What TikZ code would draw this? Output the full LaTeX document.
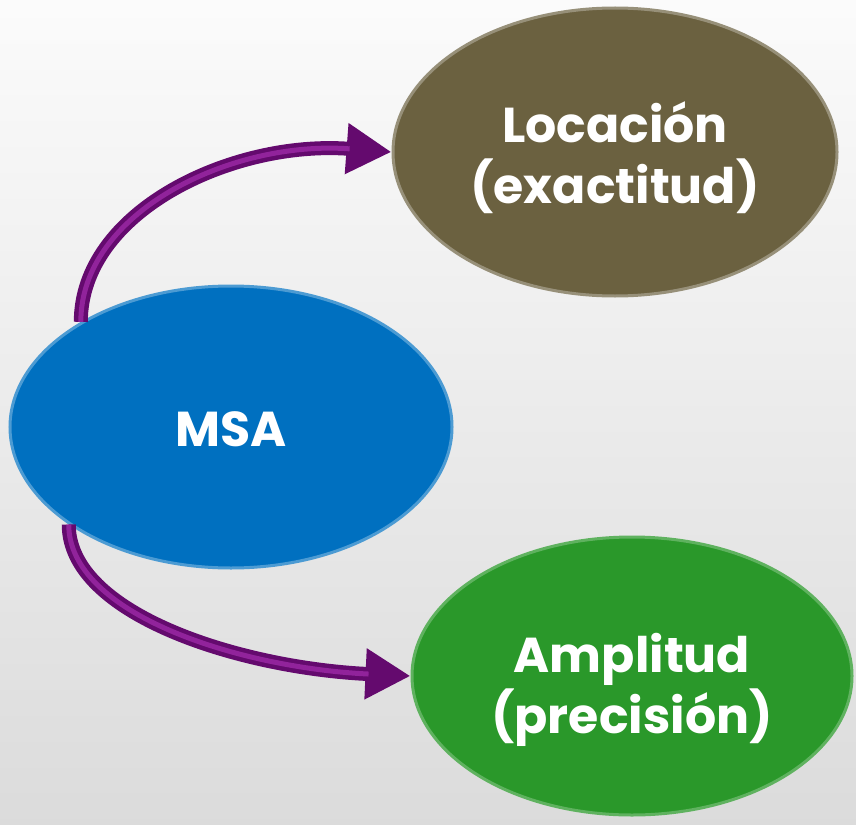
\documentclass[tikz,border=0pt]{standalone}
\usepackage{fontspec}
\setmainfont{Poppins}
\usetikzlibrary{arrows.meta,shapes.geometric}

\definecolor{locbrown}{RGB}{107,97,64}
\definecolor{msablue}{RGB}{0,112,192}
\definecolor{ampgreen}{RGB}{42,152,42}
\definecolor{arrowpurple}{RGB}{100,10,110}
\definecolor{arrowshine}{RGB}{145,35,155}

\begin{document}
\begin{tikzpicture}[x=0.5pt, y=-0.5pt,
  blob/.style={ellipse, inner sep=0pt, line width=1.5pt},
  every label/.style={text=white, align=center,
    font=\fontsize{24.5}{30.5}\selectfont\bfseries},
  curvearrow/.style={line width=7pt, arrowpurple,
    -{Triangle[length=22.5pt, width=24pt]},
    postaction={draw=arrowshine, line width=2.5pt, -, shorten >=21pt}}]
\useasboundingbox (0,0) rectangle (856,824);
\shade[top color=gray!3, bottom color=gray!28] (0,0) rectangle (856,824);

\node[blob, fill=locbrown, draw=locbrown!70!white,
  minimum width=222pt, minimum height=144pt,
  label={[yshift=-3pt]center:Locación\\(exactitud)}] (loc) at (615,152) {};
\node[blob, fill=msablue, draw=msablue!70!white,
  minimum width=221pt, minimum height=141pt,
  label={[yshift=-1pt]center:MSA}] (msa) at (231,427) {};
\node[blob, fill=ampgreen, draw=ampgreen!75!white,
  minimum width=220pt, minimum height=139pt,
  label={[yshift=-7pt]center:Amplitud\\(precisión)}] (amp) at (632,676) {};

\draw[curvearrow] (msa.145) .. controls +(0,-110) and +(-160,-12) .. (loc.west);
\draw[curvearrow] (msa.211) .. controls +(0,90) and +(-170,-8) .. (amp.west);
\end{tikzpicture}
\end{document}
